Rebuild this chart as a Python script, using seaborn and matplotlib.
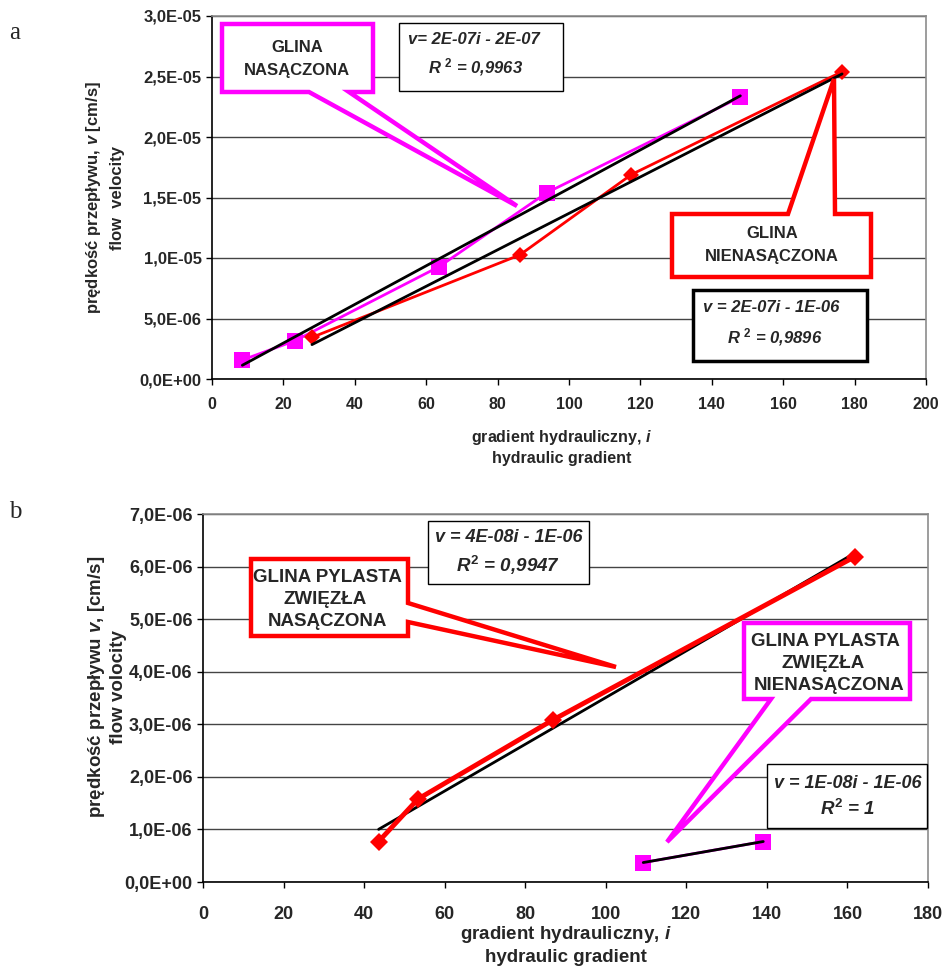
import numpy as np
import pandas as pd
import matplotlib
matplotlib.use("Agg")
import matplotlib.pyplot as plt
from matplotlib.patches import Polygon, Rectangle
import seaborn as sns

# ---------------- data ----------------
# chart a
a_sat_i = [8.5, 23.3, 63.6, 93.8, 148.0]          # GLINA NASĄCZONA
a_sat_v = [1.57e-6, 3.17e-6, 9.28e-6, 15.4e-6, 23.3e-6]
a_uns_i = [28.0, 86.2, 117.5, 176.5]               # GLINA NIENASĄCZONA
a_uns_v = [3.44e-6, 10.25e-6, 16.9e-6, 25.4e-6]
a_yticks = [0, 5e-6, 1e-5, 1.5e-5, 2e-5, 2.5e-5, 3e-5]
a_ylabels = ["0,0E+00", "5,0E-06", "1,0E-05", "1,5E-05", "2,0E-05", "2,5E-05", "3,0E-05"]
a_xticks = [0, 20, 40, 60, 80, 100, 120, 140, 160, 180, 200]

# chart b
b_sat_i = [43.6, 53.4, 86.8, 161.9]                # GLINA PYLASTA ZWIĘZŁA NASĄCZONA
b_sat_v = [0.77e-6, 1.58e-6, 3.08e-6, 6.19e-6]
b_uns_i = [109.3, 139.1]                           # GLINA PYLASTA ZWIĘZŁA NIENASĄCZONA
b_uns_v = [0.37e-6, 0.77e-6]
b_yticks = [0, 1e-6, 2e-6, 3e-6, 4e-6, 5e-6, 6e-6, 7e-6]
b_ylabels = ["0,0E+00", "1,0E-06", "2,0E-06", "3,0E-06", "4,0E-06", "5,0E-06", "6,0E-06", "7,0E-06"]
b_xticks = [0, 20, 40, 60, 80, 100, 120, 140, 160, 180]

MAG = "#FF00FF"
RED = "#FF0000"

sns.set_theme(style="ticks")
plt.rcParams["font.family"] = ["Liberation Sans", "DejaVu Sans"]
plt.rcParams["font.weight"] = "bold"
plt.rcParams["mathtext.fontset"] = "custom"
plt.rcParams["mathtext.it"] = "Liberation Sans:italic:bold"
plt.rcParams["mathtext.rm"] = "Liberation Sans:bold"
plt.rcParams["mathtext.bf"] = "Liberation Sans:bold"

W, H = 948, 969
fig = plt.figure(figsize=(W / 100, H / 100), dpi=100)


def fx(px):
    return px / W


def fy(py):
    return 1 - py / H


def ax_rect(l, t, r, b):
    return [fx(l), fy(b), fx(r) - fx(l), fy(t) - fy(b)]


def style_axes(ax, xticks, yticks, ylabels, fsx, fsy):
    ax.set_xticks(xticks)
    ax.set_xticklabels([str(t) for t in xticks], fontsize=fsx, fontweight="bold")
    ax.set_yticks(yticks)
    ax.set_yticklabels(ylabels, fontsize=fsy, fontweight="bold")
    ax.grid(axis="y", color="#444444", lw=1)
    ax.grid(axis="x", visible=False)
    ax.set_axisbelow(True)
    ax.spines["left"].set_color("black")
    ax.spines["bottom"].set_color("black")
    ax.spines["top"].set_color("#8c8c8c")
    ax.spines["right"].set_color("#8c8c8c")
    for s in ax.spines.values():
        s.set_linewidth(1.2)
        s.set_visible(True)
    ax.tick_params(axis="both", direction="out", length=4, width=1, color="black")


def callout(pts, color, lw=3.2):
    poly = Polygon([(fx(x), fy(y)) for x, y in pts], closed=True, transform=fig.transFigure,
                   facecolor="white", edgecolor=color, lw=lw, joinstyle="miter", zorder=10)
    fig.patches.append(poly)


def box(l, t, r, b, lw):
    rect = Rectangle((fx(l), fy(b)), fx(r) - fx(l), fy(t) - fy(b), transform=fig.transFigure,
                     facecolor="white", edgecolor="black", lw=lw, zorder=10)
    fig.patches.append(rect)


def ftext(x, y, s, size, style="normal", **kw):
    fig.text(fx(x), fy(y), s, ha="center", va="center", fontsize=size, fontweight="bold",
             fontstyle=style, zorder=11, **kw)


# ---------------- chart a ----------------
ax1 = fig.add_axes(ax_rect(212, 16, 926, 379))
sns.lineplot(x=a_sat_i, y=a_sat_v, sort=False, ax=ax1, color=MAG, lw=2, marker="s",
             markersize=11, markeredgecolor=MAG, markeredgewidth=0)
sns.lineplot(x=a_uns_i, y=a_uns_v, sort=False, ax=ax1, color=RED, lw=2, marker="D",
             markersize=8, markeredgecolor=RED, markeredgewidth=0)
sns.regplot(x=np.array(a_sat_i), y=np.array(a_sat_v), ax=ax1, scatter=False, ci=None,
            truncate=True, color="black", line_kws={"lw": 2, "zorder": 5})
sns.regplot(x=np.array(a_uns_i), y=np.array(a_uns_v), ax=ax1, scatter=False, ci=None,
            truncate=True, color="black", line_kws={"lw": 2, "zorder": 5})
ax1.set_xlim(0, 200)
ax1.set_ylim(0, 3e-5)
style_axes(ax1, a_xticks, a_yticks, a_ylabels, 11.5, 12)
ax1.tick_params(axis="x", pad=9)
ax1.set_ylabel("prędkość przepływu, $\\mathit{v}$ [cm/s]\nflow  velocity", fontsize=12,
               fontweight="bold", linespacing=1.6)
ax1.yaxis.set_label_coords(-0.122, 0.5)
ax1.set_xlabel("gradient hydrauliczny, $\\mathit{i}$\nhydraulic gradient", fontsize=11.5,
               fontweight="bold", linespacing=1.35)
ax1.xaxis.set_label_coords(0.49, -0.135)

# ---------------- chart b ----------------
ax2 = fig.add_axes(ax_rect(203, 514, 928, 882))
sns.regplot(x=np.array(b_sat_i), y=np.array(b_sat_v), ax=ax2, scatter=False, ci=None,
            truncate=True, color="black", line_kws={"lw": 2, "zorder": 4})
sns.lineplot(x=b_sat_i, y=b_sat_v, sort=False, ax=ax2, color=RED, lw=3.5, marker="D",
             markersize=9, markeredgecolor=RED, markeredgewidth=0, zorder=5)
sns.lineplot(x=b_uns_i, y=b_uns_v, sort=False, ax=ax2, color=MAG, lw=2, marker="s",
             markersize=11, markeredgecolor=MAG, markeredgewidth=0)
sns.regplot(x=np.array(b_uns_i), y=np.array(b_uns_v), ax=ax2, scatter=False, ci=None,
            truncate=True, color="black", line_kws={"lw": 2, "zorder": 5})
ax2.set_xlim(0, 180)
ax2.set_ylim(0, 7e-6)
style_axes(ax2, b_xticks, b_yticks, b_ylabels, 13, 13)
ax2.tick_params(axis="x", pad=13)
ax2.set_ylabel("prędkość przepływu $\\mathit{v}$, [cm/s]\nflow volocity", fontsize=13.5,
               fontweight="bold", linespacing=1.25)
ax2.yaxis.set_label_coords(-0.105, 0.53)
ax2.set_xlabel("gradient hydrauliczny, $\\mathit{i}$\nhydraulic gradient", fontsize=13.5,
               fontweight="bold", linespacing=1.25)
ax2.xaxis.set_label_coords(0.5, -0.115)

# ---------------- panel letters ----------------
fig.text(fx(15), fy(33), "a", fontsize=18, family="Liberation Serif", fontweight="normal",
         ha="center", va="center")
fig.text(fx(15), fy(512), "b", fontsize=18, family="Liberation Serif", fontweight="normal",
         ha="center", va="center")

# ---------------- callouts and equation boxes (chart a) ----------------
callout([(222, 24), (373, 24), (373, 92), (349, 92), (517, 206), (309, 92), (222, 92)], MAG)
ftext(297, 48, "GLINA", 12)
ftext(297, 71, "NASĄCZONA", 12)

box(399, 23, 563, 91, 1)
ftext(474, 39, "v= 2E-07i - 2E-07", 12, style="italic")
ftext(476, 67, "$R^{\\ 2}$ = 0,9963", 12, style="italic")

callout([(672, 214), (788, 214), (834, 79), (835, 214), (871, 214), (871, 277), (672, 277)], RED)
ftext(772, 233, "GLINA", 12)
ftext(772, 256, "NIENASĄCZONA", 12)

box(693, 290, 867, 361, 2.5)
ftext(771, 307, "v = 2E-07i - 1E-06", 12, style="italic")
ftext(775, 337, "$R^{\\ 2}$ = 0,9896", 12, style="italic")

# ---------------- callouts and equation boxes (chart b) ----------------
callout([(251, 559), (408, 559), (408, 603), (616, 667), (408, 622), (408, 636), (251, 636)], RED)
ftext(327, 577, "GLINA PYLASTA", 13.5)
ftext(325, 599, "ZWIĘZŁA", 13.5)
ftext(327, 621, "NASĄCZONA", 13.5)

box(428, 521, 589, 584, 1)
ftext(509, 538, "v = 4E-08i - 1E-06", 13, style="italic")
ftext(508, 565, "$R^{2}$ = 0,9947", 13.5, style="italic")

callout([(744, 623), (910, 623), (910, 699), (811, 699), (667, 842), (771, 699), (744, 699)], MAG)
ftext(825, 642, "GLINA PYLASTA", 13.5)
ftext(823, 663, "ZWIĘZŁA", 13.5)
ftext(829, 686, "NIENASĄCZONA", 13.5)

box(767, 764, 927, 828, 1)
ftext(848, 783, "v = 1E-08i - 1E-06", 13, style="italic")
ftext(848, 809, "$R^{2}$ = 1", 13.5, style="italic")

fig.savefig("out.png", dpi=100)
